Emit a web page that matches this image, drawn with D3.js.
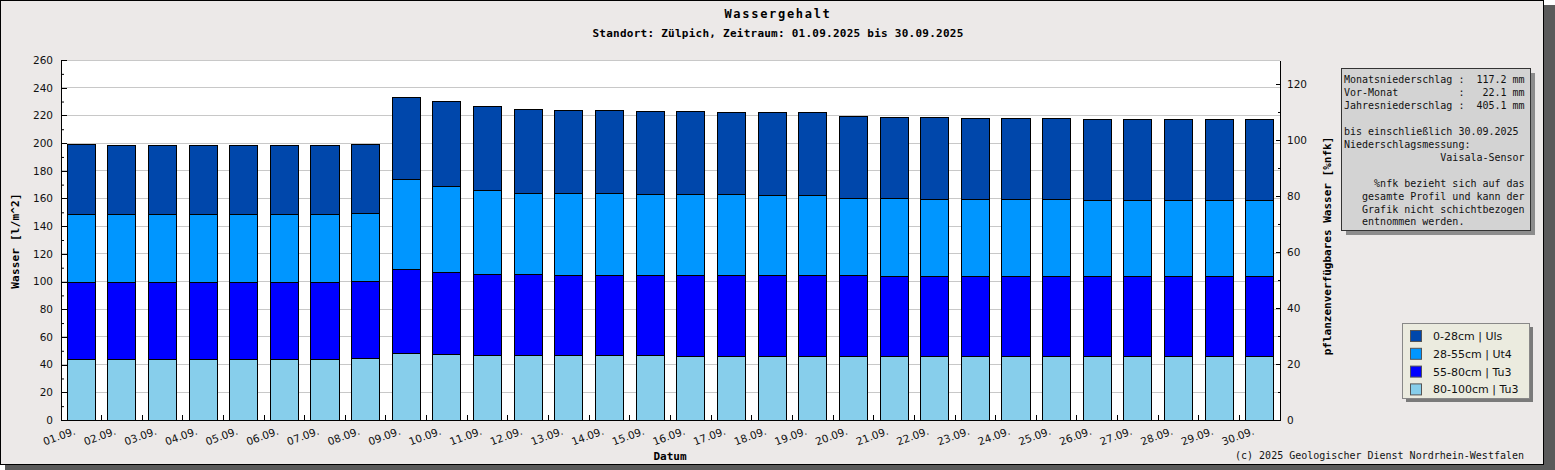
<!DOCTYPE html>
<html lang="de">
<head>
<meta charset="utf-8">
<title>Wassergehalt</title>
<script src="https://cdn.jsdelivr.net/npm/d3@7"></script>
<style>
  html, body { margin: 0; padding: 0; background: #ffffff; }
  svg { display: block; }
  .mono { font-family: 'DejaVu Sans Mono', monospace; }
  .sans { font-family: 'DejaVu Sans', sans-serif; }
</style>
</head>
<body>
<svg id="chart" width="1555" height="470"></svg>
<script>
// Wassergehalt Zülpich, 09/2025 — gestapelte Säulen je Bodenschicht (l/m²)
// Werte (Schichtdicke je Tag, unten -> oben).

const DAYS = ['01.09.', '02.09.', '03.09.', '04.09.', '05.09.', '06.09.', '07.09.', '08.09.', '09.09.', '10.09.',
  '11.09.', '12.09.', '13.09.', '14.09.', '15.09.', '16.09.', '17.09.', '18.09.', '19.09.', '20.09.',
  '21.09.', '22.09.', '23.09.', '24.09.', '25.09.', '26.09.', '27.09.', '28.09.', '29.09.', '30.09.'];

// 80-100cm | Tu3 (unterste Schicht)
const L_80_100 = [43.6, 43.6, 43.6, 43.6, 43.6, 43.6, 43.6, 44.5, 48.1, 47.3,
  46.5, 46.5, 46.5, 46.5, 46.5, 45.7, 45.7, 45.7, 45.7, 45.7,
  45.7, 45.7, 45.7, 45.7, 45.7, 45.7, 45.7, 45.7, 45.7, 45.7];
// 55-80cm | Tu3
const L_55_80 = [55.8, 55.8, 55.8, 55.8, 55.8, 55.8, 55.8, 55.7, 60.7, 59.4,
  58.7, 58.7, 58.2, 58.2, 58.2, 59.0, 59.0, 59.0, 59.0, 59.0,
  58.3, 58.3, 58.3, 58.3, 58.3, 58.3, 58.3, 58.3, 58.3, 58.3];
// 28-55cm | Ut4
const L_28_55 = [48.9, 48.9, 48.9, 48.9, 48.9, 48.9, 48.9, 48.8, 65.0, 61.8,
  60.7, 58.5, 59.0, 59.0, 58.0, 58.0, 58.0, 57.3, 57.3, 55.4,
  56.1, 55.4, 55.4, 55.4, 55.4, 54.7, 54.7, 54.7, 54.7, 54.7];
// 0-28cm | Uls (oberste Schicht)
const L_0_28 = [51.0, 50.3, 50.3, 50.3, 50.3, 50.3, 50.3, 50.3, 59.2, 61.6,
  60.6, 60.7, 60.0, 60.0, 60.2, 60.2, 59.5, 60.2, 60.2, 59.2,
  58.5, 59.2, 58.5, 58.5, 58.5, 58.5, 58.5, 58.5, 58.5, 58.5];

const LAYER_KEYS = ['l80', 'l55', 'l28', 'l0'];
const LEGEND_LABELS = ['0-28cm | Uls', '28-55cm | Ut4', '55-80cm | Tu3', '80-100cm | Tu3'];
const LEGEND_KEYS = ['l0', 'l28', 'l55', 'l80'];

const Y_MAX = 260;          // l/m²
const Y2_MAX = 128.57;      // %nfk am oberen Rand
const Y_TICKS = d3.range(0, 261, 20);
const Y2_TICKS = d3.range(0, 121, 20);

const INFO_LINES = [
  'Monatsniederschlag :  117.2 mm',
  'Vor-Monat          :   22.1 mm',
  'Jahresniederschlag :  405.1 mm',
  '',
  'bis einschließlich 30.09.2025',
  'Niederschlagsmessung:',
  '                Vaisala-Sensor',
  '',
  '     %nfk bezieht sich auf das',
  '   gesamte Profil und kann der',
  '   Grafik nicht schichtbezogen',
  '   entnommen werden.'
];

const COLORS = { l0: '#0047ab', l28: '#0096ff', l55: '#0000ff', l80: '#87ceeb' };
const BG = '#ece9e8';

function drawWasser() {
  const svg = d3.select('#chart');
  const M = { left: 61, right: 1280, top: 60, bottom: 420 };

  // Rahmen mit Schatten
  svg.append('rect').attr('x', 5).attr('y', 5).attr('width', 1550).attr('height', 465).attr('fill', '#5a5a5a');
  svg.append('rect').attr('x', 0.5).attr('y', 0.5).attr('width', 1543).attr('height', 464)
    .attr('fill', BG).attr('stroke', '#000').attr('stroke-width', 1);

  // Überschriften
  svg.append('text').attr('class', 'mono').attr('x', 778).attr('y', 18).attr('text-anchor', 'middle')
    .attr('font-size', 12).attr('font-weight', 'bold').attr('letter-spacing', 1.7)
    .text('Wassergehalt');
  svg.append('text').attr('class', 'mono').attr('x', 778).attr('y', 37).attr('text-anchor', 'middle')
    .attr('font-size', 11).attr('font-weight', 'bold').attr('letter-spacing', 0.25)
    .text('Standort: Zülpich, Zeitraum: 01.09.2025 bis 30.09.2025');

  const x = d3.scaleBand().domain(DAYS).range([M.left, M.right]).paddingInner(0.31).paddingOuter(0.15);
  const y = d3.scaleLinear().domain([0, Y_MAX]).range([M.bottom, M.top]);
  const y2 = d3.scaleLinear().domain([0, Y2_MAX]).range([M.bottom, M.top]);

  // Zeichenfläche + Gitter
  svg.append('rect').attr('x', M.left).attr('y', M.top).attr('width', M.right - M.left)
    .attr('height', M.bottom - M.top).attr('fill', '#fff');
  svg.append('g').selectAll('line').data(Y_TICKS.filter(v => v > 0)).join('line')
    .attr('x1', M.left).attr('x2', M.right).attr('y1', v => y(v)).attr('y2', v => y(v))
    .attr('stroke', '#c8c8c8').attr('shape-rendering', 'crispEdges');

  // gestapelte Säulen
  const rows = DAYS.map((d, i) => ({ day: d, l80: L_80_100[i], l55: L_55_80[i], l28: L_28_55[i], l0: L_0_28[i] }));
  const series = d3.stack().keys(LAYER_KEYS)(rows);
  svg.append('g').selectAll('g').data(series).join('g')
    .attr('fill', s => COLORS[s.key])
    .selectAll('rect').data(s => s).join('rect')
    .attr('x', d => x(d.data.day)).attr('width', x.bandwidth())
    .attr('y', d => y(d[1])).attr('height', d => y(d[0]) - y(d[1]))
    .attr('stroke', '#000').attr('stroke-width', 1).attr('shape-rendering', 'crispEdges');

  // linke Achse (Striche nach innen)
  const gL = svg.append('g').attr('transform', `translate(${M.left},0)`)
    .call(d3.axisLeft(y).tickValues(Y_TICKS).tickSize(-6).tickSizeOuter(0).tickPadding(8));
  svg.append('g').attr('transform', `translate(${M.left},0)`)
    .call(d3.axisLeft(y).tickValues(d3.range(10, 260, 20)).tickSize(-3).tickFormat(''))
    .call(g => g.select('.domain').remove());

  // rechte Achse %nfk
  const gR = svg.append('g').attr('transform', `translate(${M.right},0)`)
    .call(d3.axisRight(y2).tickValues(Y2_TICKS).tickSize(-4).tickSizeOuter(0).tickPadding(7));
  svg.append('g').attr('transform', `translate(${M.right},0)`)
    .call(d3.axisRight(y2).tickValues(d3.range(10, 128, 20)).tickSize(-2).tickFormat(''))
    .call(g => g.select('.domain').remove());

  [gL, gR].forEach(g => {
    g.selectAll('text').attr('font-family', 'DejaVu Sans, sans-serif').attr('font-size', 10.5).attr('fill', '#111');
    g.selectAll('line, path').attr('shape-rendering', 'crispEdges');
  });

  // x-Achse: Linie, Striche zwischen den Säulen, schräge Beschriftung
  const step = x.step();
  const gX = svg.append('g');
  gX.append('line').attr('x1', M.left).attr('x2', M.right).attr('y1', M.bottom).attr('y2', M.bottom)
    .attr('stroke', '#000').attr('shape-rendering', 'crispEdges');
  gX.selectAll('line.tk').data(DAYS.slice(1)).join('line').attr('class', 'tk')
    .attr('x1', d => x(d) - (step - x.bandwidth()) / 2).attr('x2', d => x(d) - (step - x.bandwidth()) / 2)
    .attr('y1', M.bottom).attr('y2', M.bottom - 5)
    .attr('stroke', '#000').attr('shape-rendering', 'crispEdges');
  gX.selectAll('text').data(DAYS).join('text').attr('class', 'sans')
    .attr('transform', d => `translate(${x(d) + x.bandwidth() / 2 - 5},434) rotate(-20)`)
    .attr('text-anchor', 'end').attr('font-size', 10.5).attr('fill', '#111')
    .text(d => d);

  // Achsentitel
  svg.append('text').attr('class', 'mono').attr('transform', 'translate(19,241) rotate(-90)')
    .attr('text-anchor', 'middle').attr('font-size', 11).attr('font-weight', 'bold').attr('letter-spacing', 0.2)
    .text('Wasser [l/m^2]');
  svg.append('text').attr('class', 'mono').attr('transform', 'translate(1331,246) rotate(-90)')
    .attr('text-anchor', 'middle').attr('font-size', 11).attr('font-weight', 'bold')
    .text('pflanzenverfügbares Wasser [%nfk]');
  svg.append('text').attr('class', 'mono').attr('x', 670).attr('y', 460).attr('text-anchor', 'middle')
    .attr('font-size', 11).attr('font-weight', 'bold').text('Datum');
  svg.append('text').attr('class', 'mono').attr('x', 1524).attr('y', 459).attr('text-anchor', 'end')
    .attr('font-size', 10).attr('fill', '#111').text('(c) 2025 Geologischer Dienst Nordrhein-Westfalen');

  // Infokasten Niederschlag
  const gI = svg.append('g');
  gI.append('rect').attr('x', 1346).attr('y', 73).attr('width', 189).attr('height', 162).attr('fill', '#8c8c8c');
  gI.append('rect').attr('x', 1341.5).attr('y', 68.5).attr('width', 189).attr('height', 162)
    .attr('fill', '#d3d3d3').attr('stroke', '#333');
  gI.selectAll('text').data(INFO_LINES).join('text').attr('class', 'mono')
    .attr('x', 1344).attr('y', (d, i) => 83 + i * 12.95)
    .attr('font-size', 10).attr('fill', '#111').attr('xml:space', 'preserve')
    .style('white-space', 'pre')
    .text(d => d);

  // Legende
  const gLeg = svg.append('g');
  gLeg.append('rect').attr('x', 1406).attr('y', 327).attr('width', 127).attr('height', 75).attr('fill', '#7a7a7a');
  gLeg.append('rect').attr('x', 1402.5).attr('y', 323.5).attr('width', 127).attr('height', 75)
    .attr('fill', '#ebebdf').attr('stroke', '#888');
  const it = gLeg.selectAll('g.it').data(LEGEND_KEYS).join('g').attr('class', 'it')
    .attr('transform', (k, i) => `translate(1410,${330 + i * 17.8})`);
  it.append('rect').attr('x', 0.5).attr('y', 0.5).attr('width', 11).attr('height', 11)
    .attr('fill', k => COLORS[k]).attr('stroke', '#555');
  it.append('text').attr('class', 'sans').attr('x', 23).attr('y', 10).attr('font-size', 11).attr('fill', '#111')
    .text((k, i) => LEGEND_LABELS[i]);
}

drawWasser();
</script>
</body>
</html>
